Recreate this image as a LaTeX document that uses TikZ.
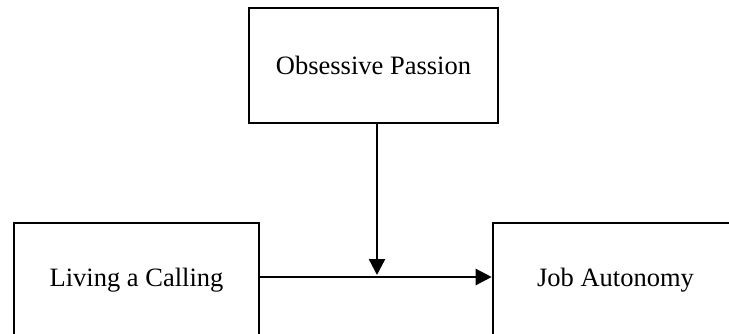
\documentclass[tikz,border=0pt]{standalone}
\usepackage{fontspec}
\setmainfont{Liberation Serif}
\usetikzlibrary{arrows.meta}
\begin{document}
\begin{tikzpicture}[x=1pt,y={(0pt,-1pt)},
  box/.style={draw=black,line width=2.6pt,rectangle,minimum width=245pt,minimum height=115pt,inner sep=0pt,font=\fontsize{26.5}{30}\selectfont},
  arr/.style={line width=2.4pt,-{Triangle[length=16pt,width=16pt]}}]
\clip (0,0) rectangle (729,334);
\fill[white] (0,0) rectangle (729,334);
\node[box,minimum width=249pt] (op) at (373.5,65.5) {Obsessive Passion};
\node[box] (lc) at (136.5,280.5) {Living a Calling};
\node[box] (ja) at (615.5,280.5) {Job Autonomy};
\coordinate (m) at (377,277);
\draw[arr] ([yshift=3.5pt]lc.east) -- ([yshift=3.5pt]ja.west);
\draw[arr] (op.south -| m) -- ([yshift=2pt]m);
\end{tikzpicture}
\end{document}
